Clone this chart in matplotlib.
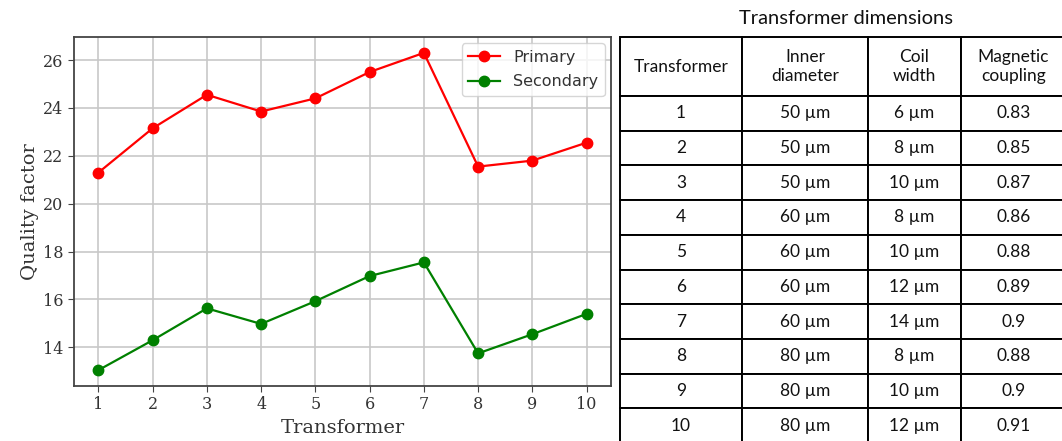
import matplotlib.pyplot as plt
import numpy as np

# Datos del gráfico
transformers = [1, 2, 3, 4, 5, 6, 7, 8, 9, 10]
q_primary = [21.3, 23.15, 24.55, 23.85, 24.4, 25.5, 26.3, 21.55, 21.8, 22.55]
q_secondary = [13.05, 14.3, 15.63, 14.98, 15.93, 16.98, 17.55, 13.75, 14.55, 15.4]

# Datos de la tabla
col_labels = ['Transformer', 'Inner\ndiameter', 'Coil\nwidth', 'Magnetic\ncoupling']
inner_diameter = ['50 µm', '50 µm', '50 µm', '60 µm', '60 µm', '60 µm', '60 µm', '80 µm', '80 µm', '80 µm']
coil_width = ['6 µm', '8 µm', '10 µm', '8 µm', '10 µm', '12 µm', '14 µm', '8 µm', '10 µm', '12 µm']
coupling = ['0.83', '0.85', '0.87', '0.86', '0.88', '0.89', '0.9', '0.88', '0.9', '0.91']

W, H = 1062, 441
fig = plt.figure(figsize=(W / 100, H / 100), dpi=100)

# Gráfico de líneas
ax = fig.add_axes([74 / W, 1 - 386 / H, (611 - 74) / W, (386 - 37) / H])
ax.plot(transformers, q_primary, 'o-', color='red', linewidth=1.6, markersize=7.5, label='Primary')
ax.plot(transformers, q_secondary, 'o-', color='green', linewidth=1.6, markersize=7.5, label='Secondary')
ax.grid(True, color='#c8c8c8', linewidth=1.2)
ax.set_axisbelow(True)
ax.set_xticks(transformers)
ax.set_yticks([14, 16, 18, 20, 22, 24, 26])
ax.tick_params(length=4, color='#444444')
for lab in ax.get_xticklabels() + ax.get_yticklabels():
    lab.set_family('DejaVu Serif')
    lab.set_fontsize(11.5)
    lab.set_color('#333333')
ax.set_xlabel('Transformer', family='DejaVu Serif', fontsize=14, color='#333333', labelpad=4)
ax.set_ylabel('Quality factor', family='DejaVu Serif', fontsize=14, color='#333333', labelpad=3)
for sp in ax.spines.values():
    sp.set_color('#444444')
    sp.set_linewidth(1.3)
leg = ax.legend(loc='upper right', fontsize=11.5, handlelength=2.0, labelspacing=0.6,
                borderaxespad=0.4)
for t in leg.get_texts():
    t.set_color('#333333')

# Tabla
tax = fig.add_axes([620 / W, -2 / H, (1066 - 620) / W, (441 + 2 - 37) / H])
tax.axis('off')
rows = [[str(t), d, c, k] for t, d, c, k in zip(transformers, inner_diameter, coil_width, coupling)]
col_w = np.array([122, 126, 93, 105], dtype=float)
col_w = col_w / col_w.sum()
tbl = tax.table(cellText=rows, colLabels=col_labels, cellLoc='center',
                colWidths=list(col_w), bbox=[0, 0, 1, 1])
tbl.auto_set_font_size(False)
header_h = 59
row_h = (441 + 2 - 37 - header_h) / 10
total = 441 + 2 - 37
for (r, c), cell in tbl.get_celld().items():
    cell.set_edgecolor('black')
    cell.set_linewidth(1.4)
    cell.get_text().set_family('Lato')
    cell.get_text().set_fontsize(12.5)
    cell.get_text().set_color('#111111')
    cell.get_text().set_linespacing(1.25)
    cell.set_height(header_h / total if r == 0 else row_h / total)

fig.text(846 / W, 1 - 18 / H, 'Transformer dimensions', ha='center', va='center',
         family='Lato', fontsize=14.5, color='#111111')

fig.savefig('out.png', dpi=100)
